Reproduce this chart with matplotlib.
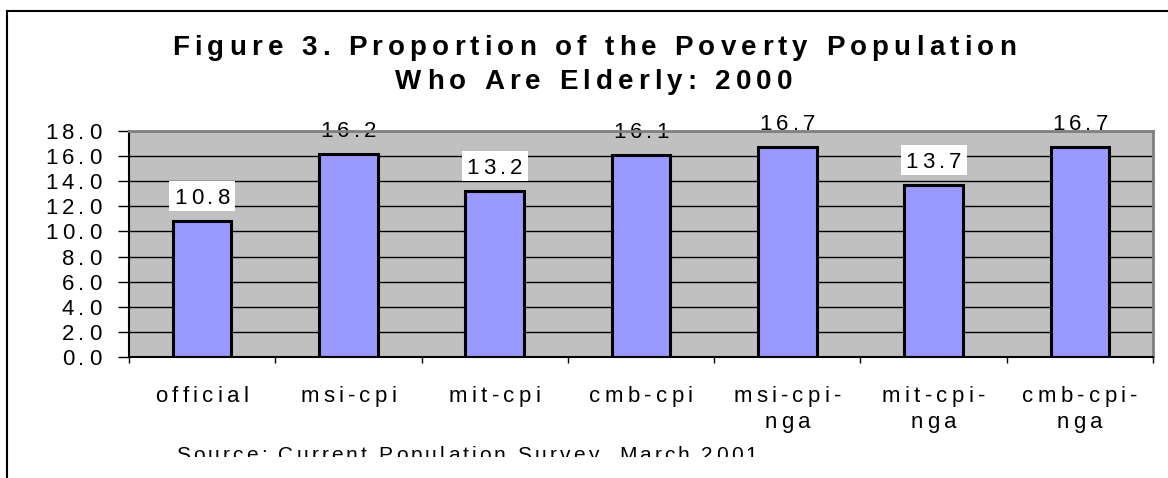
import matplotlib
matplotlib.use('Agg')
import matplotlib.pyplot as plt
from matplotlib.font_manager import FontProperties
from matplotlib.transforms import IdentityTransform, Bbox
from matplotlib.patches import Rectangle
from matplotlib.lines import Line2D
import numpy as np

categories = ['official', 'msi-cpi', 'mit-cpi', 'cmb-cpi', 'msi-cpi-nga', 'mit-cpi-nga', 'cmb-cpi-nga']
values = [10.8, 16.2, 13.2, 16.1, 16.7, 13.7, 16.7]
yticks = [0, 2, 4, 6, 8, 10, 12, 14, 16, 18]
title_lines = ['Figure 3. Proportion of the Poverty Population', 'Who Are Elderly: 2000']
source = 'Source: Current Population Survey, March 2001.'

W, H = 1168, 478
fig = plt.figure(figsize=(W / 100, H / 100), dpi=100)
ax = fig.add_axes([129 / W, 121 / H, 1024 / W, 226 / H])
R = fig.canvas.get_renderer()
px = IdentityTransform()


def spaced(host, x, y, s, size, track, ha='center', weight='normal', **kw):
    # draws s one letter at a time so the letters can be spread out (x, y in pixels, y = baseline)
    fp = FontProperties(family=['Liberation Sans', 'DejaVu Sans'], size=size, weight=weight)
    bar = R.get_text_width_height_descent('||', fp, ismath=False)[0]
    widths = [R.get_text_width_height_descent('|' + c + '|', fp, ismath=False)[0] - bar for c in s]
    total = sum(widths) + track * (len(s) - 1)
    if ha == 'center':
        x -= total / 2
    elif ha == 'right':
        x -= total
    arts = []
    for c, w in zip(s, widths):
        if c != ' ':
            arts.append(host.text(x, y, c, fontproperties=fp, transform=px,
                                  ha='left', va='baseline', **kw))
        x += w + track
    return total, arts


x = np.arange(len(categories))
ax.set_facecolor('#C0C0C0')
ax.bar(x, values, width=0.4, color='#9999FF', edgecolor='black', linewidth=2.2, zorder=2)
ax.set_xlim(-0.5, len(categories) - 0.5)
ax.set_ylim(0, 18)
ax.set_yticks(yticks)
ax.yaxis.grid(True, color='black', linewidth=1.0)
ax.set_axisbelow(True)
ax.set_xticks(np.arange(len(categories) + 1) - 0.5)
ax.tick_params(axis='x', direction='out', length=4, width=1, labelbottom=False)
ax.tick_params(axis='y', direction='out', length=8, width=1, labelleft=False)
for s in ['top', 'right']:
    ax.spines[s].set_color('#808080')
    ax.spines[s].set_linewidth(2)
for s in ['left', 'bottom']:
    ax.spines[s].set_color('black')
    ax.spines[s].set_linewidth(1.5)

# data labels
top_px = ax.transAxes.transform((0, 1))[1]
for xi, v in zip(x, values):
    cx, cy = ax.transData.transform((xi, v))
    tc = cy + 25
    w, arts = spaced(ax, cx, tc - 8, f'{v:.1f}', 16, 4.2, zorder=2.4, clip_on=False)
    if tc + 15 <= top_px:
        ax.add_patch(Rectangle((cx - w / 2 - 5, tc - 15), w + 10, 30, transform=px,
                               facecolor='white', edgecolor='none', zorder=2.3, clip_on=False))

# y tick labels
left_px, bottom_px = ax.transAxes.transform((0, 0))
for t in yticks:
    ty = ax.transData.transform((0, t))[1]
    spaced(fig, left_px - 28, ty - 8, f'{t:.1f}', 16, 4.2, ha='right')

# category labels, wrapped after the last hyphen like the original
for xi, lab in zip(x, categories):
    cx = ax.transData.transform((xi, 0))[0]
    if lab.count('-') > 1:
        k = lab.rfind('-') + 1
        lines = [lab[:k], lab[k:]]
    else:
        lines = [lab]
    for i, line in enumerate(lines):
        spaced(fig, cx, bottom_px - 44.7 - 26 * i, line, 16, 4.3)

# title
spaced(fig, 594, H - 55, title_lines[0], 20, 5.2, weight='bold')
spaced(fig, 594, H - 89, title_lines[1], 20, 5.2, weight='bold')

# source note, cut off at the bottom as in the original
_, arts = spaced(fig, 471, 17, source, 15, 3.1)
clip = Bbox.from_extents(0, 21.3, W, H)
for a in arts:
    a.set_clip_box(clip)
    a.set_clip_on(True)

# chart border
fig.add_artist(Line2D([7 / W, 7 / W], [0, 1 - 11 / H], transform=fig.transFigure, color='black', lw=1.5))
fig.add_artist(Line2D([7 / W, 1], [1 - 11 / H, 1 - 11 / H], transform=fig.transFigure, color='black', lw=1.5))

fig.savefig('out.png', dpi=100)
